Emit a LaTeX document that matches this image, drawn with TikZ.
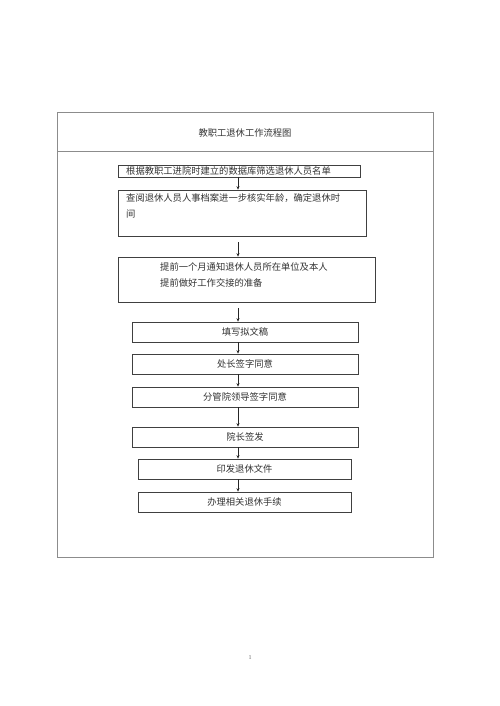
\documentclass[tikz,border=0pt]{standalone}
\usepackage{fontspec}
\setmainfont{Liberation Serif}
\newfontfamily\cjk{Noto Sans CJK SC}
\usepackage{tikz}
\usetikzlibrary{arrows.meta,positioning}

\begin{document}
\begin{tikzpicture}[x=1pt, y=-1pt,
      box/.style={draw=black!75, line width=0.7pt, inner sep=0pt, text=black!80, font=\cjk\fontsize{9.3}{11}\selectfont},
      txt/.style={inner sep=0pt, align=left, text=black!80, font=\cjk\fontsize{9.3}{16}\selectfont},
      arr/.style={draw=black!85, line width=0.7pt, -{Stealth[length=3.5pt, width=3pt]}}]
      \useasboundingbox (0, 0) rectangle (500, 706);
      \fill[white] (0, 0) rectangle (500, 706);

      % outer frame and title
      \draw[black!45, line width=0.8pt] (57, 112) rectangle (433, 557);
      \draw[black!45, line width=0.8pt] (57, 151) -- (433, 151);
      \node[txt] (title) at (245, 133) {教职工退休工作流程图};

      \coordinate (ax) at (238, 0);

      \node[box, minimum width=242pt, minimum height=12pt] (b1) at (239, 171) {};
      \node[txt, anchor=west] (t1) at (126, 171) {根据教职工进院时建立的数据库筛选退休人员名单};

      \node[box, minimum width=248pt, minimum height=46pt] (b2) at (242, 213) {};
      \node[txt, anchor=north west] (t2) at (126, 193) {查阅退休人员人事档案进一步核实年龄，确定退休时\\间};

      \node[box, minimum width=257pt, minimum height=45pt] (b3) at (246.5, 279.5) {};
      \node[txt, anchor=north west] (t3) at (160, 262) {提前一个月通知退休人员所在单位及本人\\提前做好工作交接的准备};

      \node[box, minimum width=226pt, minimum height=20pt] (b4) at (245, 332) {填写拟文稿};
      \node[box, minimum width=226pt, minimum height=20pt] (b5) at (245, 364) {处长签字同意};
      \node[box, minimum width=226pt, minimum height=20pt] (b6) at (245, 397) {分管院领导签字同意};
      \node[box, minimum width=226pt, minimum height=20pt] (b7) at (245, 437) {院长签发};
      \node[box, minimum width=213pt, minimum height=20pt] (b8) at (244.5, 469) {印发退休文件};
      \node[box, minimum width=213pt, minimum height=20pt] (b9) at (244.5, 502) {办理相关退休手续};

      % arrows
      \draw[arr] (b1.south -| ax) -- (b2.north -| ax);
      \draw[arr, shorten <=6pt] (b2.south -| ax) -- (b3.north -| ax);
      \draw[arr, shorten <=6pt] (b3.south -| ax) -- (b4.north -| ax);
      \foreach \a/\b in {b4/b5, b5/b6, b6/b7, b7/b8, b8/b9}
         \draw[arr] (\a.south -| ax) -- (\b.north -| ax);

      \node[black!60, font=\fontsize{6}{7}\selectfont] (pg) at (250, 658) {1};
\end{tikzpicture}
\end{document}
